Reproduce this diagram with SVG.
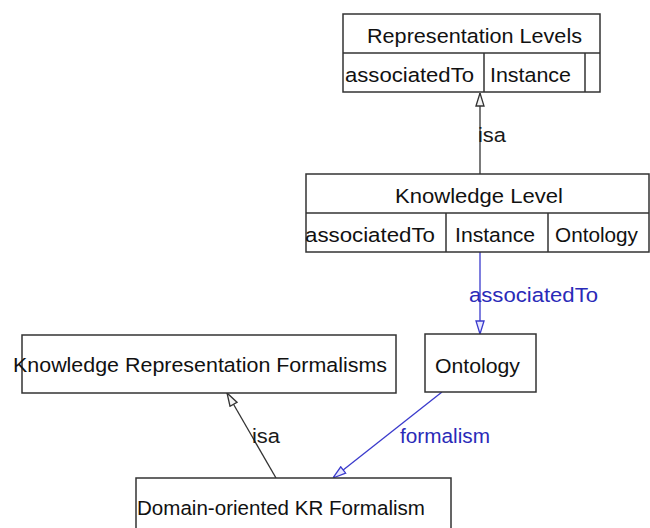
<svg xmlns="http://www.w3.org/2000/svg" width="650" height="528" viewBox="0 0 650 528">
  <style>
    .box { fill: #ffffff; stroke: #333333; stroke-width: 1.5; }
    .cell { stroke: #333333; stroke-width: 1.5; fill: none; }
    .t { font-family: "Liberation Sans", Arial, sans-serif; font-size: 20.5px; fill: #111111; }
    .lbl { font-family: "Liberation Sans", Arial, sans-serif; font-size: 20.5px; fill: #1a1a1a; }
    .blbl { font-family: "Liberation Sans", Arial, sans-serif; font-size: 20.5px; fill: #2a2ab8; }
    .isa { stroke: #333333; stroke-width: 1.3; fill: none; marker-end: url(#headDark); }
    .rel { stroke: #3a3acc; stroke-width: 1.3; fill: none; marker-end: url(#headBlue); }
  </style>
  <defs>
    <marker id="headDark" viewBox="0 0 14 10" refX="14" refY="5" markerWidth="14" markerHeight="10" markerUnits="userSpaceOnUse" orient="auto">
      <path d="M1,1 L14,5 L1,9 Z" fill="#f4f4f4" stroke="#333333" stroke-width="1.3"/>
    </marker>
    <marker id="headBlue" viewBox="0 0 14 10" refX="14" refY="5" markerWidth="14" markerHeight="10" markerUnits="userSpaceOnUse" orient="auto">
      <path d="M1,1 L14,5 L1,9 Z" fill="#e8e8ff" stroke="#3a3acc" stroke-width="1.3"/>
    </marker>
  </defs>
  <rect x="0" y="0" width="650" height="528" fill="#ffffff"/>

  <g id="connectors">
    <line class="isa" x1="480" y1="174" x2="480" y2="93"/>
    <text class="lbl" x="478" y="142" textLength="28" lengthAdjust="spacingAndGlyphs">isa</text>
    <line class="rel" x1="480" y1="252" x2="480" y2="334"/>
    <text class="blbl" x="469" y="302" textLength="129" lengthAdjust="spacingAndGlyphs">associatedTo</text>
    <line class="isa" x1="276" y1="478" x2="227" y2="393"/>
    <text class="lbl" x="252" y="443" textLength="28" lengthAdjust="spacingAndGlyphs">isa</text>
    <line class="rel" x1="442" y1="392" x2="333" y2="478"/>
    <text class="blbl" x="400" y="443" textLength="90" lengthAdjust="spacingAndGlyphs">formalism</text>
  </g>

  <g id="representation-levels">
    <rect class="box" x="343" y="14" width="257" height="78"/>
    <line class="cell" x1="343" y1="53" x2="600" y2="53"/>
    <line class="cell" x1="484" y1="53" x2="484" y2="92"/>
    <line class="cell" x1="585" y1="53" x2="585" y2="92"/>
    <text class="t" x="367" y="43" textLength="215" lengthAdjust="spacingAndGlyphs">Representation Levels</text>
    <text class="t" x="345" y="82" textLength="129" lengthAdjust="spacingAndGlyphs">associatedTo</text>
    <text class="t" x="490" y="82" textLength="81" lengthAdjust="spacingAndGlyphs">Instance</text>
  </g>

  <g id="knowledge-level">
    <rect class="box" x="306" y="174" width="343" height="78"/>
    <line class="cell" x1="306" y1="213" x2="649" y2="213"/>
    <line class="cell" x1="446" y1="213" x2="446" y2="252"/>
    <line class="cell" x1="548" y1="213" x2="548" y2="252"/>
    <text class="t" x="395" y="203" textLength="168" lengthAdjust="spacingAndGlyphs">Knowledge Level</text>
    <text class="t" x="305" y="242" textLength="130" lengthAdjust="spacingAndGlyphs">associatedTo</text>
    <text class="t" x="455" y="242" textLength="80" lengthAdjust="spacingAndGlyphs">Instance</text>
    <text class="t" x="555" y="242" textLength="83" lengthAdjust="spacingAndGlyphs">Ontology</text>
  </g>

  <g id="kr-formalisms">
    <rect class="box" x="22" y="335" width="374" height="58"/>
    <text class="t" x="13" y="372" textLength="374" lengthAdjust="spacingAndGlyphs">Knowledge Representation Formalisms</text>
  </g>

  <g id="ontology">
    <rect class="box" x="425" y="334" width="111" height="58"/>
    <text class="t" x="435" y="373" textLength="85" lengthAdjust="spacingAndGlyphs">Ontology</text>
  </g>

  <g id="domain-kr-formalism">
    <rect class="box" x="136" y="478" width="315" height="60"/>
    <text class="t" x="137" y="515" textLength="288" lengthAdjust="spacingAndGlyphs">Domain-oriented KR Formalism</text>
  </g>
</svg>
